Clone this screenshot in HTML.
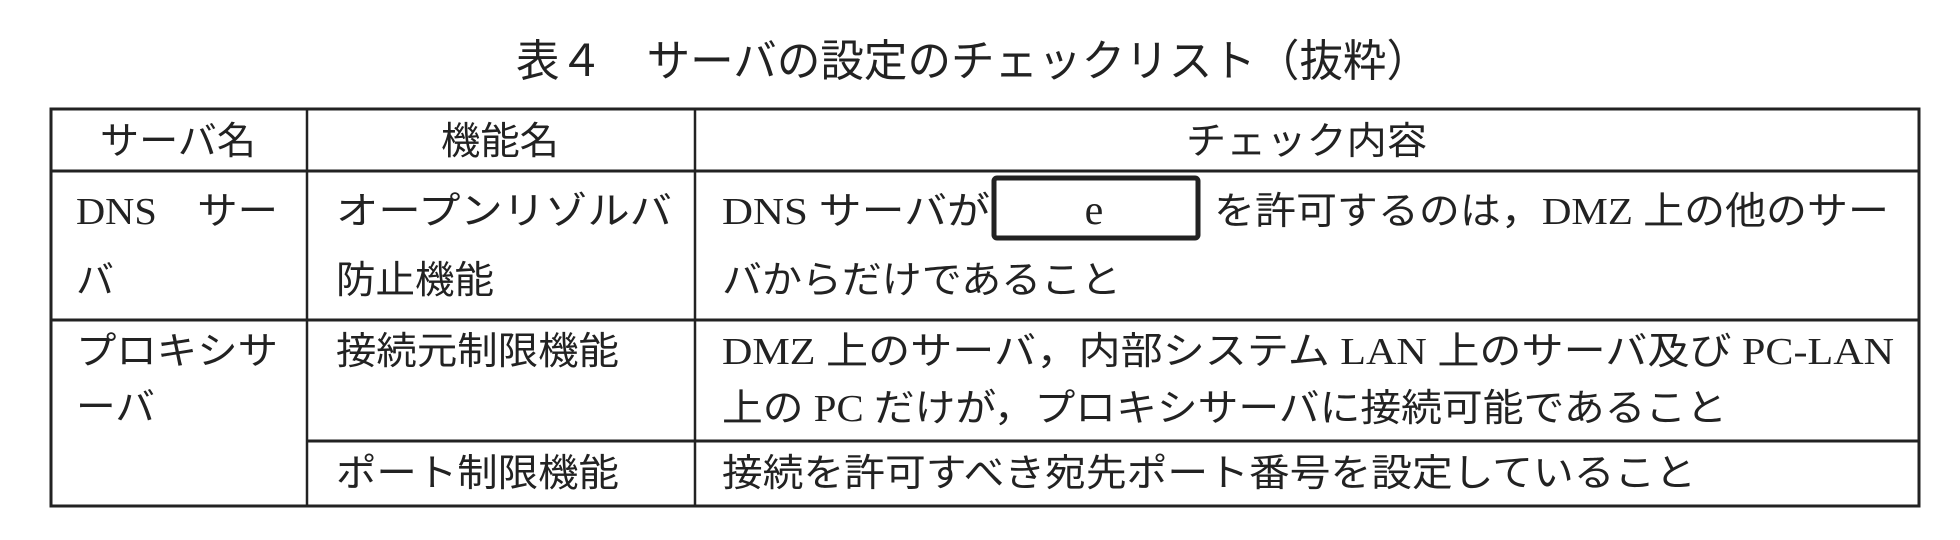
<!DOCTYPE html>
<html><head><meta charset="utf-8"><style>
html,body{margin:0;padding:0;background:#fff;}
svg{display:block;}
text{font-family:"Liberation Serif","Noto Sans CJK JP",serif;font-size:38px;fill:#222;}
</style></head><body>
<svg width="1960" height="540" viewBox="0 0 1960 540" xmlns="http://www.w3.org/2000/svg">
<text x="516" y="76" style="font-size:44px" textLength="914" lengthAdjust="spacingAndGlyphs">表４　サーバの設定のチェックリスト（抜粋）</text>
<g stroke="#222" fill="none">
<rect x="51" y="109" width="1868" height="397" stroke-width="3"/>
<line x1="50" y1="171" x2="1919" y2="171" stroke-width="3"/>
<line x1="50" y1="320" x2="1919" y2="320" stroke-width="3"/>
<line x1="307" y1="441" x2="1919" y2="441" stroke-width="3"/>
<line x1="307" y1="108" x2="307" y2="506" stroke-width="2.5"/>
<line x1="695" y1="108" x2="695" y2="506" stroke-width="2.5"/>
<rect x="994" y="178" width="204" height="60" rx="3" stroke-width="5"/>
</g>
<text x="100" y="154" textLength="156" lengthAdjust="spacingAndGlyphs">サーバ名</text>
<text x="441" y="154" textLength="118" lengthAdjust="spacingAndGlyphs">機能名</text>
<text x="1186" y="154" textLength="241" lengthAdjust="spacingAndGlyphs">チェック内容</text>

<text x="76" y="224" textLength="202" lengthAdjust="spacingAndGlyphs">DNS　サー</text>
<text x="76" y="293" textLength="38" lengthAdjust="spacingAndGlyphs">バ</text>
<text x="336" y="224" textLength="336" lengthAdjust="spacingAndGlyphs">オープンリゾルバ</text>
<text x="336" y="293" textLength="158" lengthAdjust="spacingAndGlyphs">防止機能</text>
<text x="722" y="224" textLength="268" lengthAdjust="spacingAndGlyphs">DNS サーバが</text>
<text x="1094" y="224" style="font-size:42px" text-anchor="middle">e</text>
<text x="1214" y="224" textLength="675" lengthAdjust="spacingAndGlyphs">を許可するのは，DMZ 上の他のサー</text>
<text x="722" y="293" textLength="399" lengthAdjust="spacingAndGlyphs">バからだけであること</text>

<text x="76" y="364" textLength="202" lengthAdjust="spacingAndGlyphs">プロキシサ</text>
<text x="76" y="420" textLength="79" lengthAdjust="spacingAndGlyphs">ーバ</text>
<text x="336" y="364" textLength="283" lengthAdjust="spacingAndGlyphs">接続元制限機能</text>
<text x="722" y="364" textLength="1172" lengthAdjust="spacingAndGlyphs">DMZ 上のサーバ，内部システム LAN 上のサーバ及び PC-LAN</text>
<text x="722" y="421" textLength="1005" lengthAdjust="spacingAndGlyphs">上の PC だけが，プロキシサーバに接続可能であること</text>

<text x="336" y="486" textLength="283" lengthAdjust="spacingAndGlyphs">ポート制限機能</text>
<text x="722" y="486" textLength="974" lengthAdjust="spacingAndGlyphs">接続を許可すべき宛先ポート番号を設定していること</text>
</svg>
</body></html>
